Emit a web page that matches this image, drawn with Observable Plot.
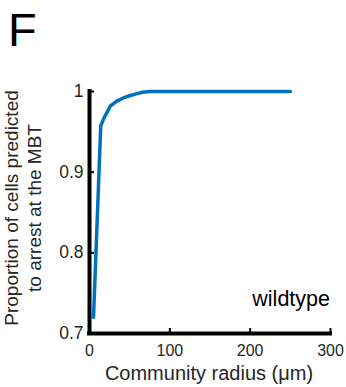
<!DOCTYPE html>
<html>
<head>
<meta charset="utf-8">
<script src="https://cdn.jsdelivr.net/npm/d3@7"></script>
<script src="https://cdn.jsdelivr.net/npm/@observablehq/plot@0.6"></script>
<style>
  html, body { margin: 0; padding: 0; background: #fff; }
  #chart svg { display: block; }
</style>
</head>
<body>
<div id="chart"></div>
<script>
// Data
const radius = [5, 14, 17.5, 26, 34, 42, 51, 58, 66, 75, 100, 150, 200, 250];
const proportion = [0.72, 0.957, 0.966, 0.982, 0.988, 0.992, 0.995, 0.997, 0.999, 1, 1, 1, 1, 1];
const xTicks = [0, 100, 200, 300];
const yTicks = [0.7, 0.8, 0.9, 1];
const yTickLabels = ["0.7", "0.8", "0.9", "1"];
const panelLetter = "F";
const seriesLabel = "wildtype";
const xLabel = "Community radius (\u03BCm)";
const yLabelLines = ["Proportion of cells predicted", "to arrest at the MBT"];

const data = radius.map((r, i) => ({radius: r, proportion: proportion[i]}));
const font = "'Liberation Sans', Arial, Helvetica, sans-serif";

const W = 346, H = 387;
const mL = 89, mR = 16, mT = 91, mB = 54;

const chart = Plot.plot({
  width: W,
  height: H,
  marginLeft: mL,
  marginRight: mR,
  marginTop: mT,
  marginBottom: mB,
  style: {fontFamily: font, background: "#fff", overflow: "visible"},
  x: {domain: [0, 300]},
  y: {domain: [0.7, 1]},
  marks: [
    Plot.line(data, {x: "radius", y: "proportion", stroke: "#0072BD", strokeWidth: 3.5}),
    Plot.axisX({ticks: xTicks, tickSize: -5, tickPadding: 16, fontSize: 16, fill: "#262626", stroke: "black", strokeWidth: 2, label: null}),
    Plot.axisY({ticks: yTicks, tickFormat: (d, i) => yTickLabels[i], tickSize: -5, tickPadding: 11, fontSize: 17.5, fill: "#262626", stroke: "black", strokeWidth: 2, label: null}),
    Plot.ruleX([0], {stroke: "black", strokeWidth: 4, strokeLinecap: "square"}),
    Plot.ruleY([0.7], {stroke: "black", strokeWidth: 4, strokeLinecap: "square"})
  ]
});

document.getElementById("chart").appendChild(chart);

const svg = d3.select(chart);
svg.append("text")
  .attr("x", 8).attr("y", 46)
  .attr("text-anchor", "start")
  .style("font-family", font).style("font-size", "47px").attr("fill", "black")
  .text(panelLetter);
svg.append("text")
  .attr("x", 330).attr("y", 306)
  .attr("text-anchor", "end")
  .style("font-family", font).style("font-size", "21.5px").attr("fill", "black")
  .text(seriesLabel);
svg.append("text")
  .attr("x", 209).attr("y", 380)
  .attr("text-anchor", "middle")
  .style("font-family", font).style("font-size", "20px").attr("fill", "#262626")
  .text(xLabel);
const yl = svg.append("text")
  .attr("transform", "translate(18,208) rotate(-90)")
  .attr("text-anchor", "middle")
  .style("font-family", font).style("font-size", "19px").attr("fill", "#262626");
yLabelLines.forEach((t, i) => {
  yl.append("tspan").attr("x", 0).attr("dy", i === 0 ? 0 : 23).text(t);
});
</script>
</body>
</html>
